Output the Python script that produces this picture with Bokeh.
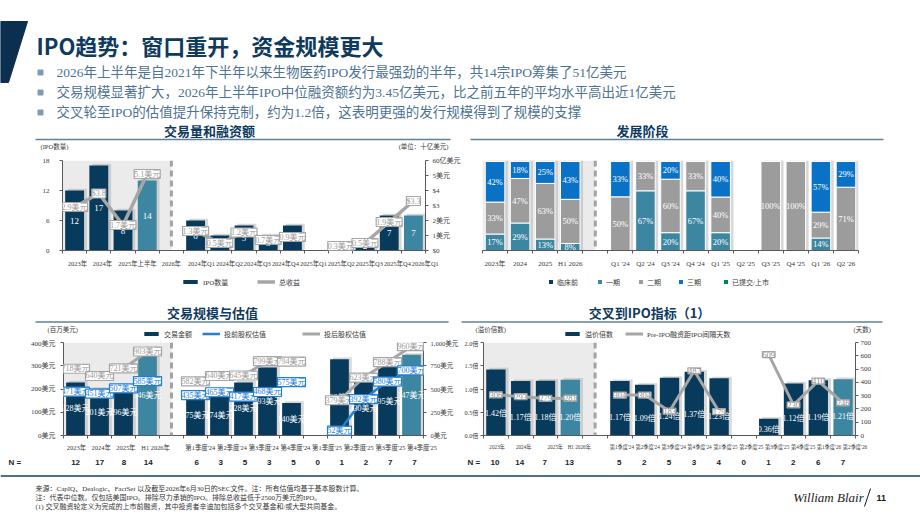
import numpy as np
from bokeh.plotting import figure
from bokeh.layouts import column, row
from bokeh.models import (Range1d, LinearAxis, FixedTicker, CustomJSTickFormatter, ColumnDataSource,
                          LabelSet, Legend, LegendItem, BoxAnnotation, Span)
from bokeh.core.properties import value
from bokeh.embed import file_html
from bokeh.resources import INLINE

# ------------------------------------------------------------------ data
periods = ["2023", "2024", "2025", "H1 2026",
           "Q1 '24", "Q2 '24", "Q3 '24", "Q4 '24", "Q1 '25",
           "Q2 '25", "Q3 '25", "Q4 '25", "Q1 '26", "Q2 '26"]
current_periods = ["H1 2026", "Q2 '26"]

# 交易量和融资额
ipo_count = [12, 17, 8, 14, 6, 3, 5, 3, 5, 0, 1, 2, 7, 7]
gross_proceeds_bn = [2.9, 3.8, 1.7, 5.1, 1.3, 0.5, 1.2, 0.7, 0.9, None, 0.3, 0.5, 1.9, 3.3]
proceeds_dollar_sign = ["2024", "Q2 '26"]
c1_x_labels = ["2023年", "2024年", "2025年上半年", "2026年", "2024年Q1", "2024年Q2", "2024年Q3",
               "2024年Q4", "2025年Q1", "2025年Q2", "2025年Q3", "2025年Q4", "2026年Q1"]
c1_left_ticks = [0, 6, 12, 18]
c1_right_ticks = [0, 1, 2, 3, 4, 5, 6]
c1_right_labels = ["$0", "1美元", "2美元", "$3", "$4", "5美元", "60亿美元"]

# 发展阶段 (% of IPOs by stage)
stages = ["临床前", "一期", "二期", "三期", "已提交/上市"]
stage_preclinical = [0, 0, 0, 0, 0, 0, 0, 0, 0, 0, 0, 0, 0, 0]
stage_phase1 = [17, 29, 13, 8, 0, 67, 20, 67, 20, 0, 0, 0, 14, 0]
stage_phase2 = [33, 47, 63, 50, 50, 33, 60, 33, 40, 0, 100, 100, 29, 71]
stage_phase3 = [42, 18, 25, 43, 33, 0, 20, 0, 40, 0, 0, 0, 57, 29]
stage_filed = [0, 0, 0, 0, 0, 0, 0, 0, 0, 0, 0, 0, 0, 0]
c2_x_labels = ["2023年", "2024", "2025", "H1 2026", "Q1 '24", "Q2 '24", "Q3 '24", "Q4 '24",
               "Q1 '25", "Q2 '25", "Q3 '25", "Q4 '25", "Q1 '26", "Q2 '26"]

# 交易规模与估值 (US$ m)
deal_size = [228, 201, 196, 346, 175, 174, 228, 293, 140, 0, 328, 230, 295, 347]
pre_money = [471, 451, 507, 585, 435, 465, 417, 468, 575, None, 52, 392, 580, 700]
post_money = [718, 640, 721, 903, 582, 640, 645, 799, 794, None, 379, 623, 788, 960]
c3_n = [12, 17, 8, 14, 6, 3, 5, 3, 5, 0, 1, 2, 7, 7]
c3_x_labels = ["2023年", "2024年", "2025年", "H1 2026年", "第1季度'24", "第2季度'24", "第3季度'24",
               "第4季度'24", "第1季度'25", "第2季度'25", "第3季度'25", "第4季度'25"]
c3_left_ticks = [0, 100, 200, 300, 400]
c3_left_labels = ["0美元", "100美元", "200美元", "300美元", "400美元"]
c3_right_ticks = [0, 250, 500, 750, 1000]
c3_right_labels = ["0美元", "250美元", "500美元", "750美元", "1,000美元"]

# 交叉到IPO指标
step_up = [1.42, 1.17, 1.18, 1.20, 1.17, 1.09, 1.24, 1.37, 1.23, 0, 0.36, 1.12, 1.19, 1.21]
days_to_ipo = [306, 293, 279, 281, 304, 304, 183, 487, 179, None, 609, 230, 410, 246]
c4_n = [10, 14, 7, 13, 5, 2, 5, 3, 4, 0, 1, 2, 6, 7]
c4_x_labels = ["2023年", "2024年", "2025年", "H1 2026年", "第1季度'24", "第2季度'24", "第3季度'24",
               "第4季度'24", "第1季度'25", "第2季度'25", "第3季度'25", "第4季度'25", "第1季度'26",
               "第2季度'26"]
c4_left_ticks = [0, 0.5, 1.0, 1.5, 2.0]
c4_left_labels = ["0.0倍", "0.5倍", "1.0倍", "1.5倍", "2.0倍"]
c4_right_ticks = [0, 100, 200, 300, 400, 500, 600, 700]
c4_right_labels = ["0", "100", "200", "300", "400", "500", "600", "700"]

# ------------------------------------------------------------------ layout constants
C1_LABEL_POS = [0.62, 1.65, 3.10, 4.50, 5.74, 6.90, 8.05, 9.21, 10.37, 11.52, 12.68, 13.84, 14.99]
C3_LABEL_POS = [0.54, 1.57, 2.60, 3.84, 5.70, 7.02, 8.34, 9.66, 10.98, 12.30, 13.62, 14.94]
C4_LABEL_POS = [0.55, 1.62, 2.89, 3.86, 5.58, 6.62, 7.67, 8.71, 9.76, 10.80, 11.84, 12.89, 13.93, 14.98]
# figure width, left border, right border of the lower charts
C3_BOX = (461, 63, 35)
C4_BOX = (459, 21, 65)

NAVY = "#083a5c"
TEAL = "#3c86a1"
GRAY_LINE = "#a6a6a6"
BLUE = "#1f80d4"
STAGE_COLORS = [NAVY, TEAL, "#9c9c9c", "#0a72c6", "#00845a"]
SHADE = "#ebebeb"
AXIS = "#5a5a5a"
TEXT = "#3a3a3a"
TITLE = "#0e3a5e"
SERIF = "Liberation Serif, Noto Sans CJK SC"
SANS = "Noto Sans CJK SC"
BOLD_SANS = "Liberation Sans, Noto Sans CJK SC"
NAN = float("nan")

NEAREST = """
let best = 0, err = Infinity;
for (let i = 0; i < pos.length; i++) {
  const e = Math.abs(pos[i] - tick);
  if (e < err) { err = e; best = i; }
}
return labels[best];
"""


def slot_x(i):
    # four annual bars, one slot for the divider, then the quarterly bars
    return i + 0.5 + (1 if i >= 4 else 0)


XS = [slot_x(i) for i in range(len(periods))]


def tick_formatter(pos, labels):
    return CustomJSTickFormatter(args=dict(pos=list(pos), labels=list(labels)), code=NEAREST)


def base_chart(width, height, y_max, left, right, top, bottom, y_axis=True):
    p = figure(width=width, height=height, x_range=Range1d(0, 15), y_range=Range1d(0, y_max),
               output_backend="svg", toolbar_location=None,
               min_border_left=left, min_border_right=right, min_border_top=top, min_border_bottom=bottom,
               y_axis_location="left" if y_axis else None)
    p.grid.visible = False
    p.outline_line_color = None
    p.background_fill_color = "white"
    p.border_fill_color = "white"
    p.add_layout(BoxAnnotation(left=0, right=4.5, fill_color=SHADE, fill_alpha=1,
                               line_color=None, level="underlay"))
    p.add_layout(Span(location=4.5, dimension="height", line_color="#a3a3a3",
                      line_width=3, line_dash="6 4"))
    return p


def style_x(p, pos, labels, size, standoff):
    ax = p.xaxis[0]
    ax.ticker = FixedTicker(ticks=list(pos), minor_ticks=list(range(16)))
    ax.formatter = tick_formatter(pos, labels)
    ax.axis_line_color = AXIS
    ax.major_tick_in = 0
    ax.major_tick_out = 0
    ax.minor_tick_in = 0
    ax.minor_tick_out = 3
    ax.minor_tick_line_color = AXIS
    ax.major_label_text_font = SERIF
    ax.major_label_text_font_size = size
    ax.major_label_text_color = TEXT
    ax.major_label_standoff = standoff


def style_y(ax, ticks, labels, size, standoff):
    ax.ticker = FixedTicker(ticks=ticks)
    ax.formatter = tick_formatter(ticks, labels)
    ax.axis_line_color = AXIS
    ax.major_tick_in = 0
    ax.major_tick_out = 3
    ax.major_tick_line_color = AXIS
    ax.minor_tick_in = 0
    ax.minor_tick_out = 0
    ax.major_label_text_font = SERIF
    ax.major_label_text_font_size = size
    ax.major_label_text_color = TEXT
    ax.major_label_standoff = standoff


def draw_bars(p, values, shadow_dy):
    idx = [i for i, v in enumerate(values) if v]
    p.vbar(x=[XS[i] + 0.12 for i in idx], top=[values[i] + shadow_dy for i in idx], width=0.78,
           fill_color="#b0b0b0", fill_alpha=0.5, line_color=None)
    main = [i for i in idx if periods[i] not in current_periods]
    cur = [i for i in idx if periods[i] in current_periods]
    p.vbar(x=[XS[i] for i in main], top=[values[i] for i in main], width=0.78,
           fill_color=NAVY, line_color=None)
    p.vbar(x=[XS[i] for i in cur], top=[values[i] for i in cur], width=0.78,
           fill_color=TEAL, line_color=None)


def bar_labels(p, values, fmt, size="8.5px", anchor=0.5):
    idx = [i for i, v in enumerate(values) if v]
    src = ColumnDataSource(dict(x=[XS[i] for i in idx], y=[values[i] * anchor for i in idx],
                                t=[fmt(values[i]) for i in idx]))
    p.add_layout(LabelSet(x="x", y="y", text="t", source=src, text_align="center",
                          text_baseline="middle", text_color="white", text_font=value(SERIF),
                          text_font_size=size))


def value_line(p, values, fmt, color, width, range_name, text_color, size="8px"):
    lx, ly = [], []
    for i, v in enumerate(values):
        if i == 4:
            lx.append(4.5)
            ly.append(NAN)
        lx.append(XS[i])
        ly.append(NAN if v is None else v)
    p.line(np.array(lx), np.array(ly, dtype=float), line_color=color, line_width=width,
           y_range_name=range_name)
    idx = [i for i, v in enumerate(values) if v is not None]
    src = ColumnDataSource(dict(x=[XS[i] for i in idx], y=[values[i] for i in idx],
                                t=[fmt(i, values[i]) for i in idx]))
    p.add_layout(LabelSet(x="x", y="y", text="t", source=src, y_range_name=range_name,
                          text_align="center", text_baseline="middle", text_color=text_color,
                          text_font=value(SERIF), text_font_size=size,
                          background_fill_color="white", border_line_color=color,
                          border_line_width=1.2))


def canvas(width, height, y_top):
    p = figure(width=width, height=height, x_range=Range1d(0, width),
               y_range=Range1d(y_top + height, y_top), output_backend="svg", toolbar_location=None,
               min_border=0, x_axis_location=None, y_axis_location=None)
    p.grid.visible = False
    p.outline_line_color = None
    return p


def put(p, x, y, text, size, color, font=SANS, style="normal", align="left"):
    p.text(x=[x], y=[y], text=[text], text_font=value(font), text_font_size=size,
           text_font_style=style, text_color=color, text_align=align, text_baseline="middle")


def legend_entry(p, label, kind, color, left, center_y, top, height):
    # one legend entry on a full-width canvas; the swatch renderer sits off-canvas
    if kind in ("bar", "square"):
        r = p.vbar(x=[-1000], top=[top], bottom=[top], width=1, fill_color=color, line_color=None)
        gw, gh = (18, 5) if kind == "bar" else (5, 5)
    else:
        r = p.line(x=[-1000, -990], y=[top, top], line_color=color, line_width=kind)
        gw, gh = 18, 9
    item_h = 9
    y = height - (center_y - item_h / 2 - top) - item_h
    p.add_layout(Legend(items=[LegendItem(label=label, renderers=[r])], location=(left, y),
                        orientation="horizontal", glyph_width=gw, glyph_height=gh, label_height=item_h,
                        label_text_font=SERIF, label_text_font_size="7px", label_text_color=TEXT,
                        label_standoff=4, padding=0, margin=0, spacing=0,
                        background_fill_alpha=0, border_line_alpha=0))


# ------------------------------------------------------------------ header
head = canvas(920, 150, 0)
head.patch([0, 27, 8, 0], [21, 21, 82, 82], color="#0d2f4f")
put(head, 36, 44, "IPO趋势：窗口重开，资金规模更大", "22px", TITLE, style="bold")
bullets = ["2026年上半年是自2021年下半年以来生物医药IPO发行最强劲的半年，共14宗IPO筹集了51亿美元",
           "交易规模显著扩大，2026年上半年IPO中位融资额约为3.45亿美元，比之前五年的平均水平高出近1亿美元",
           "交叉轮至IPO的估值提升保持克制，约为1.2倍，这表明更强的发行规模得到了规模的支撑"]
for b, yy in zip(bullets, [72, 92, 112]):
    head.scatter([40], [yy], marker="square", size=5, color="#7f9cb5")
    put(head, 56, yy, b, "13.5px", "#4e7393", font=SERIF)
put(head, 209, 130, "交易量和融资额", "13px", TITLE, style="bold", align="center")
put(head, 642, 130, "发展阶段", "13px", TITLE, style="bold", align="center")
head.segment(x0=[35, 470], y0=[139, 139], x1=[450, 883], y1=[139, 139],
             line_color="#5f819b", line_width=1.5)
put(head, 40, 145.5, "(IPO数量)", "6.5px", TEXT, font=SERIF)
put(head, 448, 145.5, "(单位：十亿美元)", "6.5px", TEXT, font=SERIF, align="right")

# ------------------------------------------------------------------ 交易量和融资额
c1 = base_chart(470, 120, 18, 62, 45, 10, 16)
c1.extra_y_ranges = {"usd": Range1d(0, 6)}
style_x(c1, C1_LABEL_POS, c1_x_labels, "6.4px", 6)
style_y(c1.yaxis[0], c1_left_ticks, [str(t) for t in c1_left_ticks], "7px", 10)
c1_right = LinearAxis(y_range_name="usd")
style_y(c1_right, c1_right_ticks, c1_right_labels, "7px", 4)
c1.add_layout(c1_right, "right")
draw_bars(c1, ipo_count, 0.35)
bar_labels(c1, ipo_count, lambda v: str(v), "9px")
value_line(c1, gross_proceeds_bn,
           lambda i, v: f"${v}" if periods[i] in proceeds_dollar_sign else f"{v}美元",
           GRAY_LINE, 3.5, "usd", "#9a9a9a")

# ------------------------------------------------------------------ 发展阶段
c2 = base_chart(450, 120, 1.01, 12, 62, 10, 16, y_axis=False)
style_x(c2, XS, c2_x_labels, "7px", 6)
stage_cols = [stage_preclinical, stage_phase1, stage_phase2, stage_phase3, stage_filed]
totals = [sum(col[i] for col in stage_cols) for i in range(len(periods))]
shares = {f"s{k}": [col[i] / totals[i] if totals[i] else 0 for i in range(len(periods))]
          for k, col in enumerate(stage_cols)}
filled = [i for i in range(len(periods)) if totals[i]]
c2.vbar(x=[XS[i] + 0.12 for i in filled], top=[1.015 for _ in filled], width=0.78,
        fill_color="#b0b0b0", fill_alpha=0.5, line_color=None)
src2 = ColumnDataSource(dict(x=XS, **shares))
c2.vbar_stack([f"s{k}" for k in range(5)], x="x", width=0.78, color=STAGE_COLORS,
              line_color="white", line_width=1, source=src2)
lx, ly, lt = [], [], []
for i in range(len(periods)):
    base = 0.0
    for k, col in enumerate(stage_cols):
        s = shares[f"s{k}"][i]
        if col[i] > 0:
            lx.append(XS[i])
            ly.append(base + s / 2)
            lt.append(f"{col[i]}%")
        base += s
c2.add_layout(LabelSet(x="x", y="y", text="t", source=ColumnDataSource(dict(x=lx, y=ly, t=lt)),
                       text_align="center", text_baseline="middle", text_color="white",
                       text_font=value(SERIF), text_font_size="8.5px"))

# ------------------------------------------------------------------ legends and lower titles
MID_TOP, MID_H = 270, 69
mid = canvas(920, MID_H, MID_TOP)
legend_entry(mid, "IPO数量", "bar", NAVY, 181, 282, MID_TOP, MID_H)
legend_entry(mid, "总收益", 3.5, GRAY_LINE, 257, 282, MID_TOP, MID_H)
for name, color, lx0 in zip(stages, STAGE_COLORS, [548, 597, 638, 678, 723]):
    legend_entry(mid, name, "square", color, lx0, 282, MID_TOP, MID_H)
put(mid, 212, 312, "交易规模与估值", "13px", TITLE, style="bold", align="center")
put(mid, 649, 312, "交叉到IPO指标（1）", "13px", TITLE, style="bold", align="center")
mid.segment(x0=[35, 461], y0=[321.5, 321.5], x1=[448, 882], y1=[321.5, 321.5],
            line_color="#5f819b", line_width=1.5)
put(mid, 47, 328.5, "(百万美元)", "6.5px", TEXT, font=SERIF)
put(mid, 475, 328.5, "(溢价倍数)", "6.5px", TEXT, font=SERIF)
put(mid, 853, 328.5, "(天数)", "6.5px", TEXT, font=SERIF)
legend_entry(mid, "交易金额", "bar", NAVY, 142, 334, MID_TOP, MID_H)
legend_entry(mid, "投前股权估值", 2.5, BLUE, 202, 334, MID_TOP, MID_H)
legend_entry(mid, "投后股权估值", 3, GRAY_LINE, 302, 334, MID_TOP, MID_H)
legend_entry(mid, "溢价倍数", "bar", NAVY, 563, 334, MID_TOP, MID_H)
legend_entry(mid, "Pre-IPO融资距IPO间隔天数", 3, GRAY_LINE, 625, 334, MID_TOP, MID_H)

# ------------------------------------------------------------------ 交易规模与估值
c3 = base_chart(C3_BOX[0], 114, 400, C3_BOX[1], C3_BOX[2], 3, 16)
c3.extra_y_ranges = {"val": Range1d(0, 1000)}
style_x(c3, C3_LABEL_POS, c3_x_labels, "6.4px", 5)
style_y(c3.yaxis[0], c3_left_ticks, c3_left_labels, "7px", 5)
c3_right = LinearAxis(y_range_name="val")
style_y(c3_right, c3_right_ticks, c3_right_labels, "6.5px", 4)
c3.add_layout(c3_right, "right")
draw_bars(c3, deal_size, 7)
bar_labels(c3, deal_size, lambda v: f"{v}美元", "8px")
value_line(c3, post_money, lambda i, v: f"{v}美元", GRAY_LINE, 3, "val", "#9a9a9a")
value_line(c3, pre_money, lambda i, v: f"{v}美元", BLUE, 2.5, "val", BLUE)

# ------------------------------------------------------------------ 交叉到IPO指标
c4 = base_chart(C4_BOX[0], 114, 2.0, C4_BOX[1], C4_BOX[2], 3, 16)
c4.extra_y_ranges = {"days": Range1d(0, 700)}
style_x(c4, C4_LABEL_POS, c4_x_labels, "5.2px", 5)
style_y(c4.yaxis[0], c4_left_ticks, c4_left_labels, "6.2px", 2)
c4_right = LinearAxis(y_range_name="days")
style_y(c4_right, c4_right_ticks, c4_right_labels, "7px", 2)
c4.add_layout(c4_right, "right")
draw_bars(c4, step_up, 0.035)
bar_labels(c4, step_up, lambda v: f"{v:.2f}倍", "8px", anchor=0.33)
value_line(c4, days_to_ipo, lambda i, v: str(v), GRAY_LINE, 3, "days", "#8c8c8c", size="8.5px")

# ------------------------------------------------------------------ deal counts and footer
foot = canvas(920, 65, 453)
sw3 = (C3_BOX[0] - C3_BOX[1] - C3_BOX[2]) / 15
sw4 = (C4_BOX[0] - C4_BOX[1] - C4_BOX[2]) / 15
c4_left_px = C3_BOX[0] + C4_BOX[1]
foot.extra_x_ranges = {"c3": Range1d(-C3_BOX[1] / sw3, (920 - C3_BOX[1]) / sw3),
                       "c4": Range1d(-c4_left_px / sw4, (920 - c4_left_px) / sw4)}
for rng, counts, n_px, left_px, sw in [("c3", c3_n, 8, C3_BOX[1], sw3),
                                       ("c4", c4_n, 467, c4_left_px, sw4)]:
    foot.text(x=XS, y=[461.5 for _ in XS], text=[str(c) for c in counts], x_range_name=rng,
              text_font=value(BOLD_SANS), text_font_size="8px", text_font_style="bold",
              text_color="#222222", text_align="center", text_baseline="middle")
    foot.text(x=[(n_px - left_px) / sw], y=[461.5], text=["N ="], x_range_name=rng,
              text_font=value(BOLD_SANS), text_font_size="8px", text_font_style="bold",
              text_color="#222222", text_align="left", text_baseline="middle")
foot.segment(x0=[0], y0=[475.5], x1=[920], y1=[475.5], line_color="#4d7090", line_width=2)
notes = ["来源：CapIQ、Dealogic、FactSet 以及截至2026年6月30日的SEC文件。注：所有估值均基于基本股数计算。",
         "注：代表中位数。仅包括美国IPO。排除尽力承销的IPO。排除总收益低于2500万美元的IPO。",
         "(1) 交叉融资轮定义为完成的上市前融资，其中投资者辛迪加包括多个交叉基金和/或大型共同基金。"]
for t, yy in zip(notes, [488, 497, 506]):
    put(foot, 35, yy, t, "7px", "#333333", font=SERIF)
put(foot, 828, 497, "William Blair", "13px", "#1a1a1a", font="Liberation Serif", style="italic",
    align="center")
foot.segment(x0=[864], y0=[506], x1=[870], y1=[488], line_color="#1a1a1a", line_width=1)
put(foot, 876, 497, "11", "9px", "#1a1a1a", font=BOLD_SANS, style="bold")

layout = column(head, row(c1, c2, spacing=0), mid, row(c3, c4, spacing=0), foot, spacing=0)
open("out.html", "w").write(file_html(layout, INLINE, title="IPO趋势"))
